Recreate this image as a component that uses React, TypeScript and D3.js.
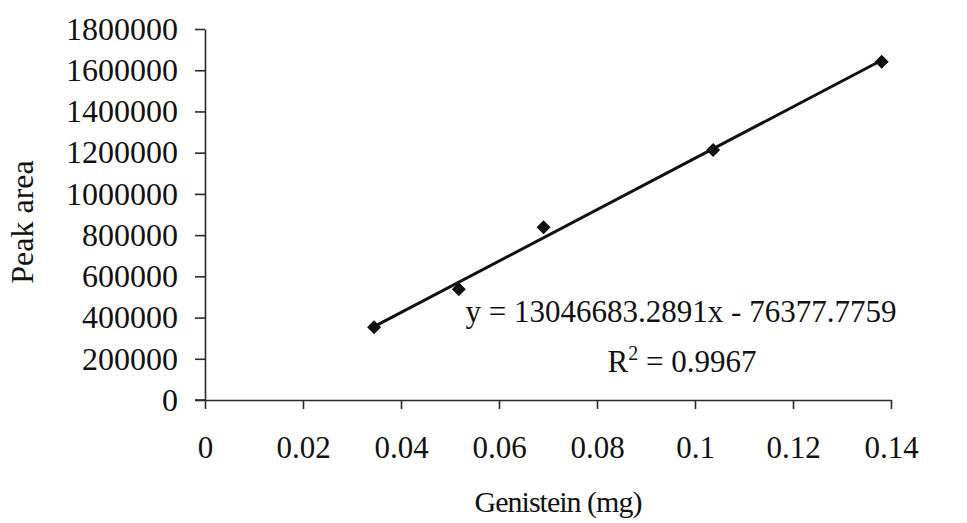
import React, { useEffect, useRef } from "react";
import * as d3 from "d3";

const xValues = [0.0345, 0.0518, 0.0691, 0.1037, 0.1381];
const yValues = [352700, 537100, 837900, 1212900, 1641400];
const xTicks = [0, 0.02, 0.04, 0.06, 0.08, 0.1, 0.12, 0.14];
const yTicks = [0, 200000, 400000, 600000, 800000, 1000000, 1200000, 1400000, 1600000, 1800000];
const equationText = "y = 13046683.2891x - 76377.7759";
const r2Value = " = 0.9967";
const xTitle = "Genistein (mg)";
const yTitle = "Peak area";

const W = 967;
const H = 523;
const FONT = "'Liberation Serif', 'Times New Roman', serif";

export default function App() {
  const ref = useRef<SVGSVGElement>(null);

  useEffect(() => {
    const svg = d3.select(ref.current);
    svg.selectAll("*").remove();

    const x = d3.scaleLinear().domain([0, 0.14]).range([205, 891]);
    const y = d3.scaleLinear().domain([0, 1800000]).range([400, 29]);

    const axisColor = "#2a2a2a";

    const gx = svg.append("g").attr("transform", "translate(0,400)");
    gx.call(
      d3.axisBottom(x)
        .tickValues(xTicks)
        .tickSizeInner(9)
        .tickSizeOuter(0)
        .tickPadding(27)
        .tickFormat((d: any) => String(+(+d).toFixed(2)))
    );

    const gy = svg.append("g").attr("transform", "translate(205,0)");
    gy.call(
      d3.axisLeft(y)
        .tickValues(yTicks)
        .tickSizeInner(10)
        .tickSizeOuter(0)
        .tickPadding(17)
        .tickFormat(d3.format("d") as any)
    );

    [gx, gy].forEach((g) => {
      g.select(".domain").attr("stroke", axisColor).attr("stroke-width", 1.6);
      g.selectAll(".tick line").attr("stroke", axisColor).attr("stroke-width", 1.6);
      g.selectAll(".tick text")
        .attr("fill", "#111")
        .style("font-family", FONT);
    });
    gx.selectAll(".tick text").style("font-size", "31px");
    gy.selectAll(".tick text").style("font-size", "32px");

    svg.append("line")
      .attr("x1", 195).attr("x2", 205).attr("y1", 400).attr("y2", 400)
      .attr("stroke", axisColor).attr("stroke-width", 1.6);

    // least squares trendline
    const n = xValues.length;
    const mx = d3.mean(xValues)!;
    const my = d3.mean(yValues)!;
    let sxy = 0, sxx = 0;
    for (let i = 0; i < n; i++) {
      sxy += (xValues[i] - mx) * (yValues[i] - my);
      sxx += (xValues[i] - mx) ** 2;
    }
    const slope = sxy / sxx;
    const intercept = my - slope * mx;
    const xs = d3.extent(xValues) as [number, number];
    const linePts: [number, number][] = xs.map((v) => [v, slope * v + intercept]);
    svg.append("path")
      .attr("d", d3.line<[number, number]>().x((d) => x(d[0])).y((d) => y(d[1]))(linePts))
      .attr("fill", "none")
      .attr("stroke", "#111")
      .attr("stroke-width", 3);

    const sym = d3.symbol().type(d3.symbolSquare).size(98);
    svg.append("g")
      .selectAll("path")
      .data(xValues.map((v, i) => [v, yValues[i]]))
      .join("path")
      .attr("d", sym as any)
      .attr("transform", (d: any) => `translate(${x(d[0])},${y(d[1])}) rotate(45)`)
      .attr("fill", "#111");

    const txt = (sel: any, size: number) =>
      sel.style("font-family", FONT).style("font-size", `${size}px`).attr("fill", "#111");

    svg.append("text").attr("x", 681).attr("y", 322).attr("text-anchor", "middle").text(equationText).call(txt, 31);
    const r2 = svg.append("text").attr("x", 682).attr("y", 372).attr("text-anchor", "middle").call(txt, 31);
    r2.append("tspan").text("R");
    r2.append("tspan").attr("dy", -12).style("font-size", "20px").text("2");
    r2.append("tspan").attr("dy", 12).text(r2Value);

    svg.append("text").attr("x", 558).attr("y", 512).attr("text-anchor", "middle")
      .attr("letter-spacing", "-1px")
      .text(xTitle).call(txt, 30);
    svg.append("text")
      .attr("transform", "translate(33,222) rotate(-90)")
      .attr("text-anchor", "middle")
      .text(yTitle)
      .call(txt, 32);
  }, []);

  return (
    <div style={{ position: "absolute", left: 0, top: 0 }}>
      <svg ref={ref} width={W} height={H} style={{ display: "block", background: "#fff" }} />
    </div>
  );
}
